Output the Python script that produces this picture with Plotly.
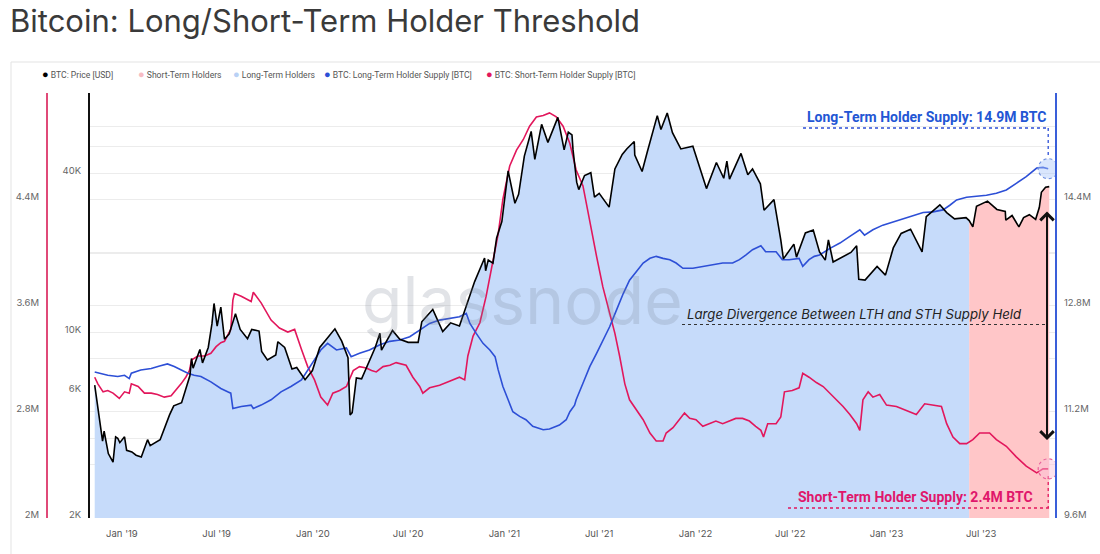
import numpy as np
import pandas as pd
import plotly.graph_objects as go

# ---------------- data ----------------
price_dates = [
    "2018-11-10", "2018-11-14", "2018-11-20", "2018-11-25", "2018-11-28", "2018-12-06", "2018-12-15",
    "2018-12-20", "2018-12-24", "2018-12-28", "2019-01-06", "2019-01-10", "2019-01-20", "2019-01-28",
    "2019-02-07", "2019-02-19", "2019-02-24", "2019-03-15", "2019-04-02", "2019-04-10", "2019-04-25",
    "2019-05-11", "2019-05-14", "2019-05-17", "2019-05-30", "2019-06-04", "2019-06-15", "2019-06-22",
    "2019-06-26", "2019-07-02", "2019-07-09", "2019-07-16", "2019-07-25", "2019-08-06", "2019-08-15",
    "2019-08-29", "2019-09-06", "2019-09-20", "2019-09-25", "2019-10-06", "2019-10-22", "2019-10-26",
    "2019-11-08", "2019-11-22", "2019-12-01", "2019-12-17", "2019-12-31", "2020-01-14", "2020-02-12",
    "2020-02-25", "2020-03-08", "2020-03-12", "2020-03-16", "2020-03-24", "2020-04-03", "2020-04-29",
    "2020-05-08", "2020-05-11", "2020-06-01", "2020-06-15", "2020-07-01", "2020-07-20", "2020-07-27",
    "2020-08-17", "2020-09-05", "2020-09-20", "2020-10-07", "2020-10-21", "2020-11-05", "2020-11-24",
    "2020-11-26", "2020-12-01", "2020-12-10", "2020-12-17", "2020-12-27", "2021-01-08", "2021-01-21",
    "2021-01-28", "2021-02-08", "2021-02-21", "2021-02-28", "2021-03-13", "2021-03-25", "2021-04-13",
    "2021-04-25", "2021-05-03", "2021-05-10", "2021-05-12", "2021-05-19", "2021-05-23", "2021-06-03",
    "2021-06-15", "2021-06-22", "2021-07-01", "2021-07-20", "2021-07-31", "2021-08-14", "2021-08-23",
    "2021-09-06", "2021-09-07", "2021-09-21", "2021-10-01", "2021-10-20", "2021-10-27", "2021-11-08",
    "2021-11-18", "2021-12-04", "2021-12-27", "2022-01-10", "2022-01-22", "2022-02-10", "2022-02-24",
    "2022-03-02", "2022-03-07", "2022-03-29", "2022-04-11", "2022-04-20", "2022-05-05", "2022-05-12",
    "2022-05-31", "2022-06-13", "2022-06-18", "2022-07-08", "2022-07-13", "2022-07-30", "2022-08-14",
    "2022-08-26", "2022-09-06", "2022-09-12", "2022-09-21", "2022-10-25", "2022-11-05", "2022-11-09",
    "2022-11-21", "2022-12-14", "2022-12-30", "2023-01-14", "2023-01-29", "2023-02-16", "2023-03-10",
    "2023-03-18", "2023-04-13", "2023-04-26", "2023-05-11", "2023-06-02", "2023-06-08", "2023-06-15",
    "2023-06-22", "2023-07-13", "2023-07-31", "2023-08-16", "2023-08-17", "2023-08-29", "2023-09-11",
    "2023-09-20", "2023-10-01", "2023-10-13", "2023-10-20", "2023-10-24", "2023-11-01", "2023-11-08",
]
price_usd = [
    6350, 5600, 4450, 3900, 4250, 3500, 3250,
    4050, 4000, 3850, 4050, 3600, 3550, 3450,
    3400, 3950, 3750, 3950, 4900, 5300, 5450,
    6900, 8000, 7350, 8650, 7700, 8800, 10800,
    12900, 10600, 12500, 9450, 9900, 11800, 10300,
    9500, 10300, 10150, 8500, 7900, 8250, 9250,
    8800, 7300, 7400, 6650, 7200, 8800, 10350,
    9300, 8050, 4900, 5000, 6750, 6700, 8800,
    9950, 8600, 10200, 9450, 9200, 9200, 11000,
    12250, 10100, 10900, 10600, 12850, 15600, 19150,
    17150, 18800, 18300, 22800, 26300, 40800, 30800,
    33300, 46400, 57500, 45100, 61200, 52300, 65000,
    49000, 57200, 55800, 49100, 37000, 34700, 39200,
    40200, 32500, 33600, 29800, 41500, 47100, 49500,
    52700, 46800, 40600, 48200, 66000, 58500, 67500,
    56900, 49400, 50600, 41800, 35000, 43900, 38300,
    44400, 38000, 47500, 39500, 41500, 36500, 29000,
    31800, 22400, 19000, 21600, 19300, 23800, 24400,
    20200, 18800, 22400, 18500, 20100, 21300, 15900,
    15800, 17800, 16500, 20900, 23700, 24600, 20200,
    27400, 30400, 28400, 26900, 27200, 26500, 25100,
    30000, 31400, 29200, 28700, 26600, 27700, 25100,
    27200, 27900, 26800, 29700, 33900, 35400, 35600,
]

sth_dates = [
    "2018-11-10", "2018-11-16", "2018-11-26", "2018-12-05", "2018-12-15", "2018-12-27", "2019-01-06",
    "2019-01-15", "2019-01-19", "2019-02-01", "2019-02-13", "2019-02-26", "2019-03-10", "2019-03-23",
    "2019-04-05", "2019-04-14", "2019-04-24", "2019-05-03", "2019-05-10", "2019-05-14", "2019-05-26",
    "2019-06-08", "2019-06-20", "2019-06-30", "2019-07-09", "2019-07-16", "2019-07-22", "2019-07-28",
    "2019-08-01", "2019-08-04", "2019-08-17", "2019-09-05", "2019-09-09", "2019-09-24", "2019-10-13",
    "2019-10-29", "2019-11-14", "2019-11-27", "2019-12-10", "2019-12-22", "2020-01-04", "2020-01-16",
    "2020-01-29", "2020-02-08", "2020-02-21", "2020-03-05", "2020-03-18", "2020-03-30", "2020-04-12",
    "2020-04-22", "2020-05-01", "2020-05-14", "2020-05-27", "2020-06-08", "2020-06-27", "2020-07-10",
    "2020-07-23", "2020-07-29", "2020-08-11", "2020-08-30", "2020-09-18", "2020-10-07", "2020-10-17",
    "2020-10-23", "2020-11-02", "2020-11-15", "2020-11-27", "2020-12-10", "2020-12-20", "2020-12-29",
    "2021-01-11", "2021-01-24", "2021-02-06", "2021-02-18", "2021-03-03", "2021-03-16", "2021-03-28",
    "2021-04-10", "2021-04-23", "2021-05-06", "2021-05-15", "2021-05-18", "2021-05-31", "2021-06-13",
    "2021-06-26", "2021-07-08", "2021-07-21", "2021-07-31", "2021-08-09", "2021-08-19", "2021-08-28",
    "2021-09-10", "2021-09-23", "2021-10-06", "2021-10-18", "2021-10-31", "2021-11-06", "2021-11-19",
    "2021-12-02", "2021-12-11", "2021-12-21", "2022-01-02", "2022-01-15", "2022-01-27", "2022-02-09",
    "2022-02-22", "2022-03-07", "2022-03-19", "2022-04-01", "2022-04-14", "2022-04-26", "2022-05-06",
    "2022-05-11", "2022-05-19", "2022-06-04", "2022-06-13", "2022-06-20", "2022-07-05", "2022-07-18",
    "2022-07-25", "2022-08-06", "2022-08-16", "2022-08-20", "2022-09-02", "2022-09-15", "2022-09-27",
    "2022-10-10", "2022-10-23", "2022-11-05", "2022-11-11", "2022-11-17", "2022-11-27", "2022-12-06",
    "2022-12-19", "2023-01-01", "2023-01-20", "2023-02-08", "2023-02-27", "2023-03-15", "2023-03-31",
    "2023-04-16", "2023-04-26", "2023-05-08", "2023-05-21", "2023-06-03", "2023-06-15", "2023-06-28",
    "2023-07-17", "2023-07-30", "2023-08-18", "2023-09-06", "2023-09-25", "2023-10-15", "2023-10-27",
    "2023-11-06",
]
sth_supply_m = [
    3.06, 3.01, 2.95, 2.96, 2.94, 2.90, 2.95,
    2.94, 3.01, 2.99, 2.94, 2.94, 2.93, 2.91,
    2.92, 2.96, 3.01, 3.06, 3.11, 3.19, 3.22,
    3.22, 3.24, 3.29, 3.32, 3.33, 3.37, 3.42,
    3.64, 3.69, 3.67, 3.63, 3.70, 3.62, 3.49,
    3.43, 3.40, 3.42, 3.27, 3.14, 3.04, 2.91,
    2.85, 2.94, 2.96, 2.99, 3.11, 3.14, 3.13,
    3.11, 3.10, 3.14, 3.15, 3.17, 3.15, 3.06,
    2.99, 2.94, 2.98, 3.00, 3.03, 3.06, 3.04,
    3.22, 3.37, 3.47, 3.67, 3.92, 4.14, 4.40,
    4.65, 4.77, 4.85, 4.95, 5.02, 5.03, 5.05,
    5.02, 4.95, 4.82, 4.68, 4.62, 4.50, 4.22,
    3.97, 3.74, 3.54, 3.39, 3.22, 3.01, 2.89,
    2.81, 2.74, 2.64, 2.58, 2.58, 2.64, 2.68,
    2.74, 2.79, 2.75, 2.74, 2.69, 2.71, 2.73,
    2.71, 2.73, 2.75, 2.75, 2.73, 2.69, 2.66,
    2.61, 2.71, 2.71, 2.76, 2.95, 2.96, 2.98,
    3.09, 3.06, 3.03, 3.02, 2.99, 2.94, 2.89,
    2.84, 2.78, 2.71, 2.66, 2.89, 2.95, 2.91,
    2.93, 2.85, 2.84, 2.81, 2.78, 2.86, 2.85,
    2.84, 2.71, 2.61, 2.56, 2.56, 2.59, 2.64,
    2.64, 2.59, 2.54, 2.46, 2.39, 2.34, 2.37,
    2.37,
]

lth_dates = [
    "2018-11-10", "2018-11-22", "2018-12-05", "2018-12-24", "2019-01-06", "2019-01-15", "2019-01-19",
    "2019-02-06", "2019-02-26", "2019-03-14", "2019-03-29", "2019-04-11", "2019-04-24", "2019-05-07",
    "2019-05-19", "2019-06-01", "2019-06-20", "2019-07-09", "2019-07-22", "2019-07-28", "2019-08-01",
    "2019-08-17", "2019-09-05", "2019-09-09", "2019-09-24", "2019-10-13", "2019-11-01", "2019-11-20",
    "2019-12-10", "2019-12-22", "2020-01-04", "2020-01-16", "2020-01-29", "2020-02-15", "2020-03-05",
    "2020-03-14", "2020-03-30", "2020-04-18", "2020-05-08", "2020-05-27", "2020-06-15", "2020-07-04",
    "2020-07-23", "2020-08-11", "2020-08-30", "2020-09-18", "2020-10-07", "2020-10-20", "2020-10-27",
    "2020-11-08", "2020-11-21", "2020-12-04", "2020-12-14", "2020-12-20", "2020-12-29", "2021-01-08",
    "2021-01-17", "2021-01-30", "2021-02-11", "2021-02-24", "2021-03-16", "2021-03-28", "2021-04-16",
    "2021-04-29", "2021-05-06", "2021-05-15", "2021-05-18", "2021-05-31", "2021-06-13", "2021-06-26",
    "2021-07-08", "2021-07-21", "2021-08-03", "2021-08-16", "2021-08-28", "2021-09-10", "2021-09-23",
    "2021-10-06", "2021-10-18", "2021-10-31", "2021-11-13", "2021-11-25", "2021-12-08", "2021-12-27",
    "2022-01-15", "2022-02-03", "2022-02-22", "2022-03-13", "2022-03-26", "2022-04-07", "2022-04-20",
    "2022-05-06", "2022-05-15", "2022-06-04", "2022-06-16", "2022-06-29", "2022-07-18", "2022-07-25",
    "2022-08-06", "2022-08-16", "2022-08-26", "2022-09-15", "2022-10-04", "2022-10-23", "2022-11-11",
    "2022-11-20", "2022-12-06", "2022-12-25", "2023-01-14", "2023-02-02", "2023-02-21", "2023-03-12",
    "2023-03-31", "2023-04-19", "2023-05-02", "2023-05-15", "2023-06-03", "2023-06-22", "2023-07-11",
    "2023-07-30", "2023-08-18", "2023-09-06", "2023-09-25", "2023-10-15", "2023-10-27", "2023-11-06",
]
lth_supply_m = [
    11.80, 11.78, 11.75, 11.73, 11.75, 11.70, 11.78,
    11.83, 11.85, 11.89, 11.92, 11.88, 11.83, 11.78,
    11.75, 11.73, 11.65, 11.55, 11.50, 11.48, 11.25,
    11.28, 11.30, 11.25, 11.30, 11.38, 11.50, 11.58,
    11.68, 11.83, 11.98, 12.13, 12.23, 12.13, 12.16,
    12.03, 12.08, 12.13, 12.21, 12.26, 12.28, 12.33,
    12.43, 12.53, 12.58, 12.61, 12.63, 12.68, 12.53,
    12.38, 12.23, 12.13, 12.03, 11.83, 11.58, 11.38,
    11.20, 11.13, 11.08, 10.98, 10.93, 10.94, 11.00,
    11.08, 11.20, 11.30, 11.38, 11.63, 11.88, 12.08,
    12.28, 12.48, 12.73, 12.98, 13.18, 13.31, 13.44,
    13.51, 13.54, 13.51, 13.49, 13.44, 13.36, 13.36,
    13.39, 13.41, 13.44, 13.44, 13.49, 13.56, 13.64,
    13.70, 13.61, 13.61, 13.49, 13.49, 13.51, 13.39,
    13.49, 13.54, 13.56, 13.66, 13.74, 13.84, 13.94,
    13.86, 13.94, 14.01, 14.06, 14.11, 14.16, 14.20,
    14.21, 14.24, 14.31, 14.39, 14.43, 14.44, 14.46,
    14.49, 14.54, 14.64, 14.74, 14.87, 14.88, 14.86,
]

regime_switch = "2023-06-08"   # price area turns from long-term to short-term colouring

x_tick_dates = ["2019-01-01", "2019-07-01", "2020-01-01", "2020-07-01", "2021-01-01",
                "2021-07-01", "2022-01-01", "2022-07-01", "2023-01-01", "2023-07-01"]
price_ticks = [2000, 6000, 10000, 40000]
price_tick_text = ["2K", "6K", "10K", "40K"]
price_grid = [4000, 10000, 20000, 40000, 60000]
sth_ticks = [2.0, 2.8, 3.6, 4.4]
sth_tick_text = ["2M", "2.8M", "3.6M", "4.4M"]
lth_ticks = [9.6, 11.2, 12.8, 14.4]
lth_tick_text = ["9.6M", "11.2M", "12.8M", "14.4M"]

# ---------------- styling ----------------
W, H = 1100, 554
TOP, BOT = 93, 518            # plot area top/bottom in px
C_PRICE = "#000000"
C_LTH = "#2d4fd6"
C_STH = "#e2175c"
C_LTH_FILL = "#c6dbfa"
C_STH_FILL = "#ffc6c8"
GRID = "#ececec"
FONT = "Inter"


def px(x):
    return x / W


def py(y):
    return (BOT - y) / (BOT - TOP)


pdates = pd.to_datetime(price_dates)
switch = pd.Timestamp(regime_switch)
price_arr = np.array(price_usd, dtype=float)
lth_area = np.where(pdates <= switch, price_arr, np.nan)
sth_area = np.where(pdates >= switch, price_arr, np.nan)

fig = go.Figure()
fig.add_trace(go.Scatter(x=pdates, y=lth_area, mode="lines", line=dict(width=0),
                         fill="tozeroy", fillcolor=C_LTH_FILL, name="Long-Term Holders",
                         yaxis="y", showlegend=False, hoverinfo="skip"))
fig.add_trace(go.Scatter(x=pdates, y=sth_area, mode="lines", line=dict(width=0),
                         fill="tozeroy", fillcolor=C_STH_FILL, name="Short-Term Holders",
                         yaxis="y", showlegend=False, hoverinfo="skip"))
fig.add_trace(go.Scatter(x=pd.to_datetime(sth_dates), y=sth_supply_m, mode="lines",
                         line=dict(color=C_STH, width=1.6), yaxis="y2",
                         name="BTC: Short-Term Holder Supply [BTC]", showlegend=False))
fig.add_trace(go.Scatter(x=pd.to_datetime(lth_dates), y=lth_supply_m, mode="lines",
                         line=dict(color=C_LTH, width=1.6), yaxis="y3",
                         name="BTC: Long-Term Holder Supply [BTC]", showlegend=False))
fig.add_trace(go.Scatter(x=pdates, y=price_arr, mode="lines",
                         line=dict(color=C_PRICE, width=1.6), yaxis="y4",
                         name="BTC: Price [USD]", showlegend=False))

price_range = [np.log10(2000), np.log10(2000) + (BOT - TOP) / 265.0]
tickfont = dict(family=FONT, size=9.5, color="#666")

fig.update_layout(
    width=W, height=H,
    margin=dict(l=0, r=0, t=TOP, b=H - BOT),
    paper_bgcolor="white", plot_bgcolor="white",
    showlegend=False,
    font=dict(family=FONT, color="#444"),
    title=dict(text="Bitcoin: Long/Short-Term Holder Threshold", x=px(10), xanchor="left",
               y=1 - 21 / H, yanchor="middle", yref="container",
               font=dict(family="Inter", size=31, color="#3a3a3a")),
    xaxis=dict(domain=[px(90), px(1055)], range=["2018-11-01", "2023-11-19"], type="date",
               tickvals=x_tick_dates, tickformat="%b '%y", showgrid=False, showline=False,
               zeroline=False, ticks="outside", ticklen=7, tickcolor="rgba(0,0,0,0)",
               tickfont=dict(family=FONT, size=9.5, color="#555")),
    yaxis=dict(type="log", range=price_range, domain=[0, 1], side="left", anchor="x",
               showline=True, linecolor="#111", linewidth=2, showgrid=False, zeroline=False,
               tickvals=price_ticks, ticktext=price_tick_text, ticks="outside", ticklen=5,
               tickcolor="rgba(0,0,0,0)", tickfont=tickfont, ticklabelshift=-3,
               minor=dict(tickmode="array", tickvals=price_grid, showgrid=True,
                          gridcolor=GRID, ticklen=0)),
    yaxis2=dict(range=[2.0, 5.2], overlaying="y", side="left", anchor="free", position=px(47),
                showline=True, linecolor="#e04a78", linewidth=2, showgrid=True, gridcolor=GRID,
                zeroline=False, tickvals=sth_ticks, ticktext=sth_tick_text, ticks="outside",
                ticklen=5, tickcolor="rgba(0,0,0,0)", tickfont=tickfont, ticklabelshift=-3,
                minor=dict(dtick=0.4, tick0=2.0, showgrid=True, gridcolor=GRID, ticklen=0)),
    yaxis3=dict(range=[9.6, 16.0], overlaying="y", side="right", anchor="x",
                showline=True, linecolor="#3a5fd9", linewidth=2, showgrid=False, zeroline=False,
                tickvals=lth_ticks, ticktext=lth_tick_text, ticks="outside", ticklen=5,
                tickcolor="rgba(0,0,0,0)", tickfont=tickfont, ticklabelshift=-3),
    yaxis4=dict(type="log", range=price_range, overlaying="y", visible=False, anchor="x"),
)

# ---- card border
shapes = [dict(type="rect", xref="paper", yref="paper", x0=px(11), x1=px(1110),
               y0=py(570), y1=py(62), line=dict(color="#e3e3e3", width=1), layer="below")]

last_date = pd.to_datetime(lth_dates[-1])
# LTH callout: dotted leader + dashed circle on the last LTH value
shapes += [
    dict(type="line", xref="paper", yref="paper", x0=px(803), x1=px(1049), y0=py(128), y1=py(128),
         line=dict(color=C_LTH, width=1.3, dash="dot")),
    dict(type="line", xref="x", yref="paper", x0=last_date, x1=last_date, y0=py(128), y1=py(158),
         line=dict(color=C_LTH, width=1.3, dash="dot")),
    dict(type="circle", xref="x", yref="y3", xsizemode="pixel", ysizemode="pixel",
         xanchor=last_date, yanchor=lth_supply_m[-1], x0=-10, x1=10, y0=-10, y1=10,
         line=dict(color="#6f8fe0", width=1.2, dash="dot"), fillcolor="rgba(170,200,250,0.45)"),
]
# STH callout
last_sth_date = pd.to_datetime(sth_dates[-1])
shapes += [
    dict(type="line", xref="paper", yref="paper", x0=px(788), x1=px(1049), y0=py(508), y1=py(508),
         line=dict(color=C_STH, width=1.3, dash="dot")),
    dict(type="line", xref="x", yref="paper", x0=last_sth_date, x1=last_sth_date, y0=py(476),
         y1=py(508), line=dict(color=C_STH, width=1.3, dash="dot")),
    dict(type="circle", xref="x", yref="y2", xsizemode="pixel", ysizemode="pixel",
         xanchor=last_sth_date, yanchor=sth_supply_m[-1], x0=-10, x1=10, y0=-10, y1=10,
         line=dict(color="#e8609a", width=1.2, dash="dot"), fillcolor="rgba(250,190,215,0.45)"),
]
# divergence dashed line
shapes.append(dict(type="line", xref="paper", yref="paper", x0=px(682), x1=px(1045),
                   y0=py(324.5), y1=py(324.5), line=dict(color="#333", width=1, dash="3px,3px")))
fig.update_layout(shapes=shapes)

annotations = [
    dict(text="glassnode", xref="paper", yref="paper", x=px(684), y=py(300), xanchor="right",
         showarrow=False, borderpad=0,
         font=dict(family="Inter", size=66, color="rgba(120,128,145,0.22)")),
    dict(text="<b>Long-Term Holder Supply: 14.9M BTC</b>", xref="paper", yref="paper",
         x=px(1048), y=py(117), xanchor="right", yanchor="middle", showarrow=False,
         font=dict(family="Roboto", size=14, color="#2356d4")),
    dict(text="<b>Short-Term Holder Supply: 2.4M BTC</b>", xref="paper", yref="paper",
         x=px(1035), y=py(497), xanchor="right", yanchor="middle", showarrow=False,
         font=dict(family="Roboto", size=14, color="#e0166b")),
    dict(text="<i>Large Divergence Between LTH and STH Supply Held</i>", xref="paper", yref="paper",
         x=px(685), y=py(314), xanchor="left", yanchor="middle", showarrow=False,
         font=dict(family="Inter", size=13.2, color="#222")),
    dict(text="", xref="paper", yref="paper", x=px(1047), y=py(440), ax=0, ay=-230,
         showarrow=True, arrowhead=4, startarrowhead=4, arrowside="end+start",
         arrowsize=1.3, startarrowsize=1.3, arrowwidth=2, arrowcolor="#111"),
]

legend_items = [
    (41, "#000000", "BTC: Price [USD]"),
    (137, "#f7bcc3", "Short-Term Holders"),
    (232, "#b9d1f5", "Long-Term Holders"),
    (323, C_LTH, "BTC: Long-Term Holder Supply [BTC]"),
    (485, C_STH, "BTC: Short-Term Holder Supply [BTC]"),
]
for lx, col, label in legend_items:
    annotations.append(dict(text=f"<span style='color:{col};font-size:11px'>●</span> {label}",
                            xref="paper", yref="paper", x=px(lx), y=py(74), xanchor="left",
                            yanchor="middle", showarrow=False, borderpad=0,
                            font=dict(family="Roboto", size=8.6, color="#555")))
fig.update_layout(annotations=annotations)

fig.write_html("out.html")
